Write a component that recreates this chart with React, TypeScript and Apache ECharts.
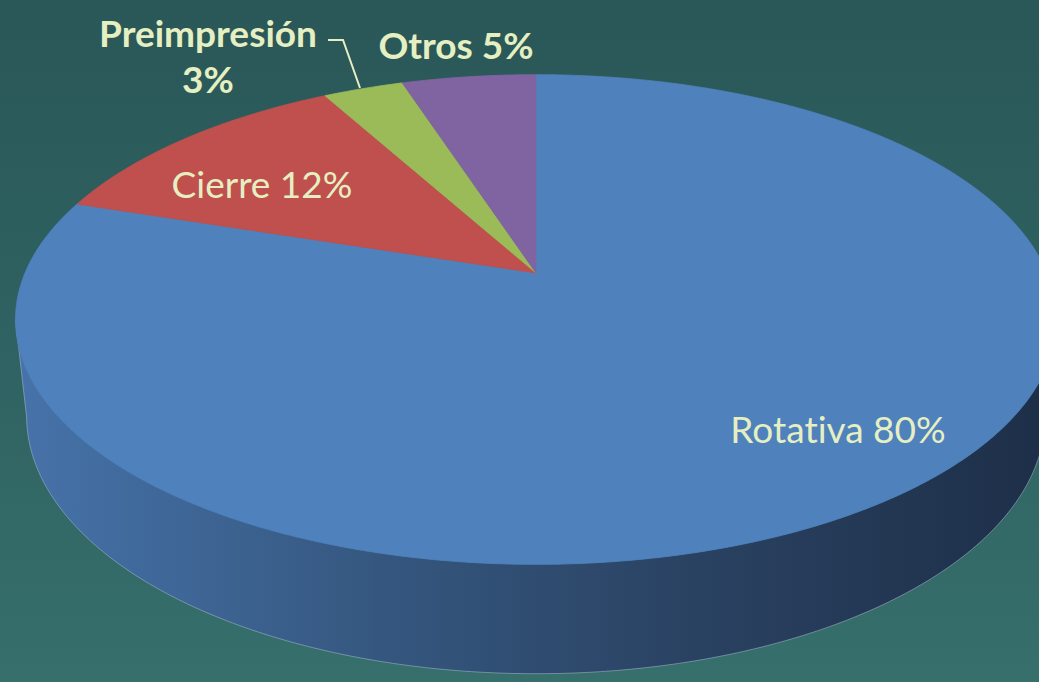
import React, { useEffect, useRef } from "react";
import * as echarts from "echarts";

// ---- data ----
const categories = ["Rotativa", "Cierre", "Preimpresión", "Otros"];
const values = [80, 12, 3, 5];
const topColors = ["#4f81bd", "#c0504d", "#9bbb59", "#8064a2"];

// ---- layout (not data) ----
const W = 1039;
const H = 682;
const PROJ = { X0: 536, Y0: 273, A: 511, B: 236, g: -0.19, e: 0.021, depth: 97 };
const SIDE_RANGE = [101, 259];
const labelLayout = [
  { x: 838, y: 428, bold: false, multiline: false },
  { x: 262, y: 183, bold: false, multiline: false },
  { x: 208, y: 55, bold: true, multiline: true },
  { x: 456, y: 44, bold: true, multiline: false },
];
const leader = [
  [328, 40],
  [343, 40],
  [360, 88],
];
const TEXT_COLOR = "#e6efc2";
const FONT = "Lato, 'Open Sans', sans-serif";

function project(thetaDeg: number, level: number): number[] {
  const t = (thetaDeg * Math.PI) / 180;
  const x = Math.sin(t);
  const z = -Math.cos(t);
  const w = 1 + PROJ.g * z + PROJ.e * level;
  return [PROJ.X0 + (PROJ.A * x) / w, PROJ.Y0 + (PROJ.B * z + PROJ.depth * level) / w];
}

function sliceAngles(i: number): number[] {
  const total = values.reduce((s, v) => s + v, 0);
  let before = 0;
  for (let k = 0; k < i; k++) before += values[k];
  return [(before / total) * 360, ((before + values[i]) / total) * 360];
}

function arc(a: number, b: number, level: number): number[][] {
  const pts: number[][] = [];
  const n = Math.max(2, Math.ceil((b - a) / 0.5));
  for (let k = 0; k <= n; k++) pts.push(project(a + ((b - a) * k) / n, level));
  return pts;
}

const sideGradient = {
  type: "linear",
  x: 15,
  y: 0,
  x2: 1057,
  y2: 0,
  global: true,
  colorStops: [
    { offset: 0, color: "#4673aa" },
    { offset: 0.35, color: "#35577f" },
    { offset: 0.65, color: "#2a4262" },
    { offset: 1, color: "#1d2e47" },
  ],
};

export default function App() {
  const ref = useRef<HTMLDivElement>(null);
  useEffect(() => {
    if (!ref.current) return;
    const chart = echarts.init(ref.current, undefined, { renderer: "svg" });
    const seriesData = values.map((v, i) => ({ name: categories[i], value: [v] }));

    const option = {
      animation: false,
      series: [
        {
          type: "custom",
          coordinateSystem: "none",
          z: 1,
          data: seriesData,
          renderItem: (params: any) => {
            const i = params.dataIndex;
            const [a, b] = sliceAngles(i);
            const lo = Math.max(a, SIDE_RANGE[0]);
            const hi = Math.min(b, SIDE_RANGE[1]);
            if (lo >= hi) return { type: "group", children: [] };
            const topArc = arc(lo, hi, 0);
            const lowArc = arc(lo, hi, 1);
            const pts = topArc.concat(lowArc.slice().reverse());
            return {
              type: "group",
              children: [
                {
                  type: "polygon",
                  shape: { points: pts },
                  style: { fill: sideGradient },
                },
                {
                  type: "polyline",
                  shape: { points: [topArc[0]].concat(lowArc, [topArc[topArc.length - 1]]) },
                  style: { stroke: "rgba(175,190,215,0.5)", lineWidth: 1, fill: null },
                },
              ],
            };
          },
        },
        {
          type: "custom",
          coordinateSystem: "none",
          z: 2,
          data: seriesData,
          renderItem: (params: any) => {
            const i = params.dataIndex;
            const [a, b] = sliceAngles(i);
            const pts = [[PROJ.X0, PROJ.Y0]].concat(arc(a, b, 0));
            return {
              type: "polygon",
              shape: { points: pts },
              style: { fill: topColors[i], stroke: topColors[i], lineWidth: 0.8 },
            };
          },
        },
        {
          type: "custom",
          coordinateSystem: "none",
          z: 3,
          data: seriesData,
          renderItem: (params: any) => {
            const i = params.dataIndex;
            const L = labelLayout[i];
            const text = L.multiline
              ? `${categories[i]}\n${values[i]}%`
              : `${categories[i]} ${values[i]}%`;
            const children: any[] = [
              {
                type: "text",
                style: {
                  x: L.x,
                  y: L.y,
                  text,
                  fill: TEXT_COLOR,
                  fontSize: 37,
                  fontFamily: FONT,
                  fontWeight: L.bold ? "bold" : "normal",
                  align: "center",
                  verticalAlign: "middle",
                  lineHeight: 46,
                },
              },
            ];
            if (L.multiline) {
              children.push({
                type: "polyline",
                shape: { points: leader },
                style: { stroke: TEXT_COLOR, lineWidth: 2, fill: null },
              });
            }
            return { type: "group", children };
          },
        },
      ],
    };
    chart.setOption(option as any);
    return () => chart.dispose();
  }, []);

  return (
    <>
      <style>{"svg text { font-variant-ligatures: none; font-feature-settings: 'liga' 0; }"}</style>
      <div
        ref={ref}
        style={{
          position: "fixed",
          left: 0,
          top: 0,
          width: W,
          height: H,
          background: "linear-gradient(180deg, #2a5757 0%, #2f6262 50%, #366f6c 100%)",
        }}
      />
    </>
  );
}
